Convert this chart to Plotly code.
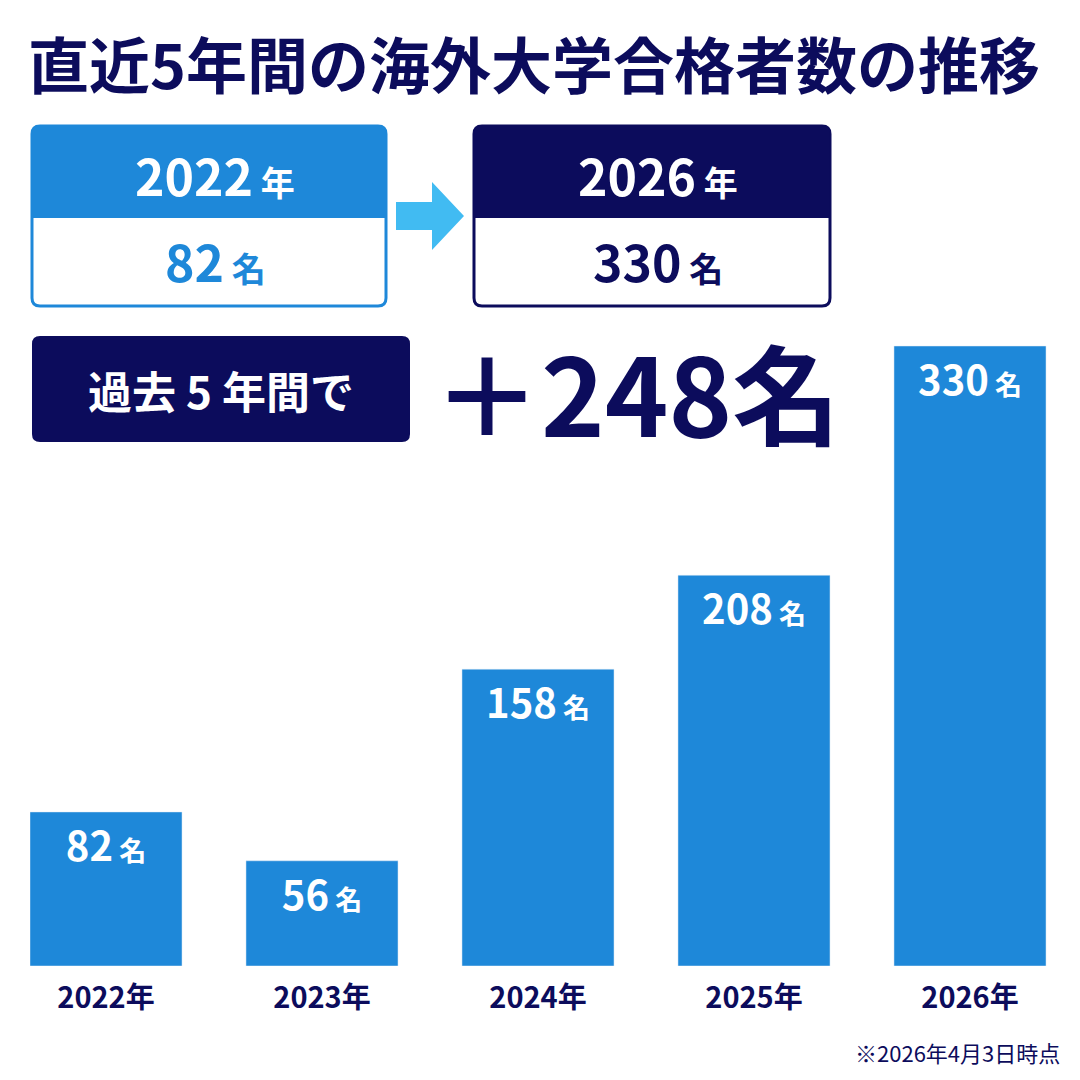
import plotly.graph_objects as go

years = ["2022年", "2023年", "2024年", "2025年", "2026年"]
counts = [82, 56, 158, 208, 330]
start_year, start_count = "2022", 82
end_year, end_count = "2026", 330
diff = end_count - start_count

NAVY = "#0c0c5c"
BLUE = "#1e88d9"
LIGHT = "#41bbf2"
FONT = "Noto Sans CJK JP"

OFF = 8  # page body margin
W, H = 1080, 1080
L, R, T, B = 30 - OFF, 1080 - 1050 + OFF, 100 - OFF, 1080 - 966 + OFF
pw, ph = W - L - R, H - T - B

def px(x):
    return (x - OFF - L) / pw

def py(y):
    return (H - B - (y - OFF)) / ph

def rrect(x0, y0, x1, y1, r=8, top=True, bottom=True):
    rt = r if top else 0
    rb = r if bottom else 0
    X = lambda v: f"{px(v):.5f}"
    Y = lambda v: f"{py(v):.5f}"
    return (f"M {X(x0+rt)},{Y(y0)} L {X(x1-rt)},{Y(y0)} Q {X(x1)},{Y(y0)} {X(x1)},{Y(y0+rt)} "
            f"L {X(x1)},{Y(y1-rb)} Q {X(x1)},{Y(y1)} {X(x1-rb)},{Y(y1)} "
            f"L {X(x0+rb)},{Y(y1)} Q {X(x0)},{Y(y1)} {X(x0)},{Y(y1-rb)} "
            f"L {X(x0)},{Y(y0+rt)} Q {X(x0)},{Y(y0)} {X(x0+rt)},{Y(y0)} Z")

labels = [f"<b>{c}</b><span style='font-size:27px'><b> 名</b></span>" for c in counts]

fig = go.Figure(go.Bar(
    x=years, y=counts, marker_color=BLUE, text=labels,
    textposition="inside", insidetextanchor="end", textangle=0,
    textfont=dict(color="white", size=40, family=FONT),
))

shapes = []
def add_path(path, fill, line=None, lw=0):
    shapes.append(dict(type="path", path=path, xref="paper", yref="paper",
                       fillcolor=fill, line=dict(color=line or fill, width=lw)))

add_path(rrect(32, 126, 386, 306), "white", BLUE, 3)
add_path(rrect(32, 126, 386, 218, bottom=False), BLUE)
add_path(rrect(474, 126, 830, 306), "white", NAVY, 3)
add_path(rrect(474, 126, 830, 218, bottom=False), NAVY)
X = lambda v: f"{px(v):.5f}"
Y = lambda v: f"{py(v):.5f}"
add_path(f"M {X(396)},{Y(202)} L {X(432)},{Y(202)} L {X(432)},{Y(182)} L {X(464)},{Y(216)} "
         f"L {X(432)},{Y(250)} L {X(432)},{Y(230)} L {X(396)},{Y(230)} Z", LIGHT)
add_path(rrect(32, 336, 410, 442), NAVY)

ann = []
def text(x, y, s, size, color, anchor="center"):
    ann.append(dict(x=px(x), y=py(y), xref="paper", yref="paper", text=s, showarrow=False,
                    xanchor=anchor, yanchor="middle", font=dict(size=size, color=color, family=FONT)))

text(26, 62, "<b>直近5年間の海外大学合格者数の推移</b>", 61, NAVY, "left")
text(215, 174, f"<b>{start_year}</b><span style='font-size:34px'><b> 年</b></span>", 50, "white")
text(215, 260, f"<b>{start_count}</b><span style='font-size:34px'><b> 名</b></span>", 50, BLUE)
text(658, 174, f"<b>{end_year}</b><span style='font-size:34px'><b> 年</b></span>", 50, "white")
text(658, 260, f"<b>{end_count}</b><span style='font-size:34px'><b> 名</b></span>", 50, NAVY)
text(221, 390, "<b>過去 5 年間で</b>", 44, "white")
text(636, 390, f"<b>＋{diff}名</b>", 108, NAVY)
text(1062, 1052, "※2026年4月3日時点", 22, NAVY, "right")

fig.update_layout(
    width=W, height=H, margin=dict(l=L, r=R, t=T, b=B),
    paper_bgcolor="white", plot_bgcolor="white", bargap=0.296,
    shapes=shapes, annotations=ann, showlegend=False,
    xaxis=dict(showgrid=False, showline=False, ticks="", range=[-76 / 216, 4 + 80 / 216],
               tickfont=dict(size=29, color=NAVY, family=FONT), ticklabelstandoff=12,
               tickprefix="<b>", ticksuffix="</b>"),
    yaxis=dict(visible=False, range=[0, 330 * ph / 620]),
    font=dict(family=FONT),
)
fig.write_html("out.html")
